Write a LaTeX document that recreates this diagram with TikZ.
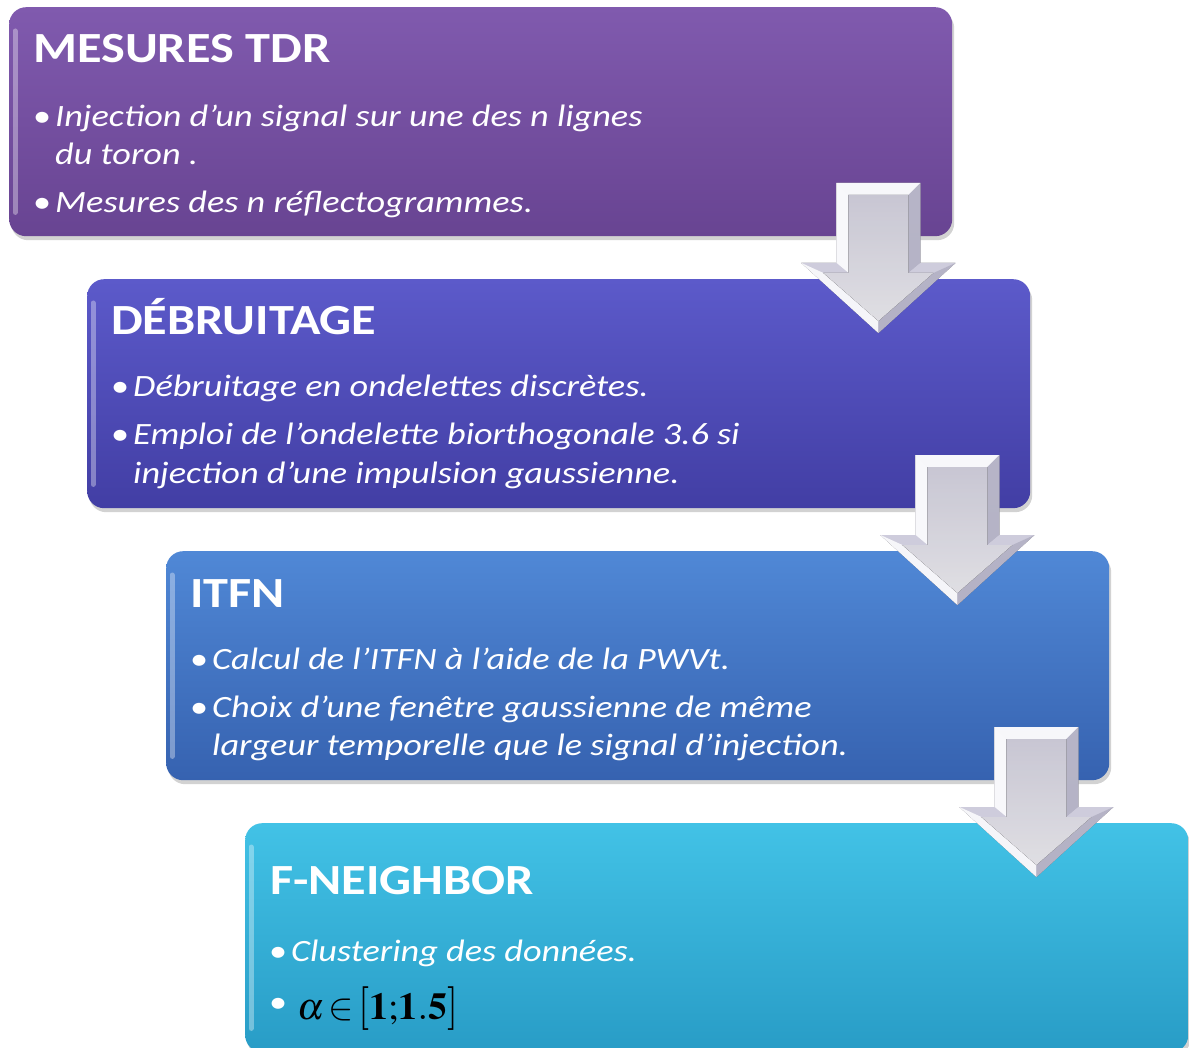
\documentclass[tikz,border=0pt]{standalone}
\usepackage{mathptmx}
\usepackage[no-math]{fontspec}
\setmainfont{Carlito}[FakeStretch=1.17]
\usetikzlibrary{calc,shadows}

\definecolor{p1top}{RGB}{128,90,174}
\definecolor{p1bot}{RGB}{104,68,146}
\definecolor{p2top}{RGB}{92,90,202}
\definecolor{p2bot}{RGB}{66,62,164}
\definecolor{p3top}{RGB}{80,136,214}
\definecolor{p3bot}{RGB}{54,98,176}
\definecolor{p4top}{RGB}{66,194,230}
\definecolor{p4bot}{RGB}{40,156,198}
\definecolor{arhi}{RGB}{246,245,250}
\definecolor{arlo}{RGB}{214,212,226}
\definecolor{arface}{RGB}{220,218,232}
\definecolor{arlight}{RGB}{250,250,253}
\definecolor{armid}{RGB}{206,204,220}
\definecolor{ardark}{RGB}{178,176,196}

\newcommand{\tallbrack}[1]{\raisebox{-0.02em}{\scalebox{1.05}[1.15]{$\mathbf{#1}$}}}

\tikzset{
  stagebox/.style={draw=none, rounded corners=17pt, minimum width=943pt,
    minimum height=229pt, anchor=north west, inner sep=0pt,
    drop shadow={shadow xshift=2pt, shadow yshift=-4pt, opacity=.35}},
  sttitle/.style={anchor=base west, inner sep=0pt, text=white,
    font=\fontsize{43}{43}\selectfont\bfseries},
  stbody/.style={anchor=base west, inner sep=0pt, text=white,
    font=\fontsize{31}{31}\selectfont\itshape},
  stbullet/.style={anchor=base west, inner sep=0pt, text=white,
    font=\fontsize{31}{31}\selectfont},
  edgelight/.style={line width=5pt, line cap=round, white, opacity=.35},
  flowarrow/.pic={
    \fill[top color=arhi, bottom color=arlo, fill opacity=.93]
      (-42,-150) -- (42,-150) -- (42,-70) -- (77,-70) -- (0,0) -- (-77,-70) -- (-42,-70) -- cycle;
    \fill[arlight, fill opacity=.9] (-42,-150) -- (42,-150) -- (30,-138) -- (-30,-138) -- cycle;
    \fill[arlight, fill opacity=.95] (-42,-150) -- (-30,-138) -- (-30,-60) -- (-42,-70) -- cycle;
    \fill[ardark, fill opacity=.9] (42,-150) -- (42,-70) -- (30,-60) -- (30,-138) -- cycle;
    \fill[armid, fill opacity=.9] (-42,-70) -- (-77,-70) -- (-55,-60) -- (-30,-60) -- cycle;
    \fill[armid, fill opacity=.9] (42,-70) -- (77,-70) -- (55,-60) -- (30,-60) -- cycle;
    \fill[arlight, fill opacity=.9] (-77,-70) -- (0,0) -- (0,-12) -- (-55,-60) -- cycle;
    \fill[ardark, fill opacity=.9] (77,-70) -- (0,0) -- (0,-12) -- (55,-60) -- cycle;
    \fill[top color=arface, bottom color=arhi, fill opacity=.9]
      (-30,-138) -- (30,-138) -- (30,-60) -- (55,-60) -- (0,-12) -- (-55,-60) -- (-30,-60) -- cycle;
  }
}

\begin{document}
\begin{tikzpicture}[x=1pt, y=-1pt]
\useasboundingbox (0,0) rectangle (1189,1048);
\fill[white] (0,0) rectangle (1189,1048);
\clip (0,0) rectangle (1189,1048);

% boxes
\node[stagebox, top color=p1top, bottom color=p1bot] (b1) at (9,7) {};
\node[stagebox, top color=p2top, bottom color=p2bot] (b2) at (87,279) {};
\node[stagebox, top color=p3top, bottom color=p3bot] (b3) at (166,551) {};
\node[stagebox, top color=p4top, bottom color=p4bot] (b4) at (245,823) {};

\foreach \b in {b1,b2,b3,b4}{
  \draw[edgelight] ($(\b.north west)+(6,24)$) -- ($(\b.south west)+(6,-24)$);
}

% box 1
\node[sttitle] (t1) at ($(b1.north west)+(24,56)$) {MESURES TDR};
\node[stbullet] (u11) at ($(b1.north west)+(24,120)$) {•};
\node[stbody] (l11) at ($(b1.north west)+(46,120)$) {Injection d’un signal sur une des n lignes};
\node[stbody] (l12) at ($(b1.north west)+(46,158)$) {du toron .};
\node[stbullet] (u12) at ($(b1.north west)+(24,206)$) {•};
\node[stbody] (l13) at ($(b1.north west)+(46,206)$) {Mesures des n réflectogrammes.};

% box 2
\node[sttitle] (t2) at ($(b2.north west)+(24,56)$) {DÉBRUITAGE};
\node[stbullet] (u21) at ($(b2.north west)+(24,118)$) {•};
\node[stbody] (l21) at ($(b2.north west)+(46,118)$) {Débruitage en ondelettes discrètes.};
\node[stbullet] (u22) at ($(b2.north west)+(24,166)$) {•};
\node[stbody] (l22) at ($(b2.north west)+(46,166)$) {Emploi de l’ondelette biorthogonale 3.6 si};
\node[stbody] (l23) at ($(b2.north west)+(46,204)$) {injection d’une impulsion gaussienne.};

% box 3
\node[sttitle] (t3) at ($(b3.north west)+(24,56)$) {ITFN};
\node[stbullet] (u31) at ($(b3.north west)+(24,118)$) {•};
\node[stbody] (l31) at ($(b3.north west)+(46,118)$) {Calcul de l’ITFN à l’aide de la PWVt.};
\node[stbullet] (u32) at ($(b3.north west)+(24,166)$) {•};
\node[stbody] (l32) at ($(b3.north west)+(46,166)$) {Choix d’une fenêtre gaussienne de même};
\node[stbody] (l33) at ($(b3.north west)+(46,204)$) {largeur temporelle que le signal d’injection.};

% box 4
\node[sttitle] (t4) at ($(b4.north west)+(25,71)$) {F-NEIGHBOR};
\node[stbullet] (u41) at ($(b4.north west)+(24,138)$) {•};
\node[stbody] (l41) at ($(b4.north west)+(46,138)$) {Clustering des données.};
\node[stbullet] (u42) at ($(b4.north west)+(24,189)$) {•};
\node[anchor=base west, inner sep=0pt, text=black, font=\fontsize{38}{38}\selectfont]
  (m41) at ($(b4.north west)+(52,196)$) {$\alpha\!\in\!\tallbrack{[}\mathbf{1;\!1.5}\tallbrack{]}$};

% arrows between stages
\pic at ($(b2.north east)+(-152,54)$) {flowarrow};
\pic at ($(b3.north east)+(-152,54)$) {flowarrow};
\pic at ($(b4.north east)+(-152,54)$) {flowarrow};
\end{tikzpicture}
\end{document}
